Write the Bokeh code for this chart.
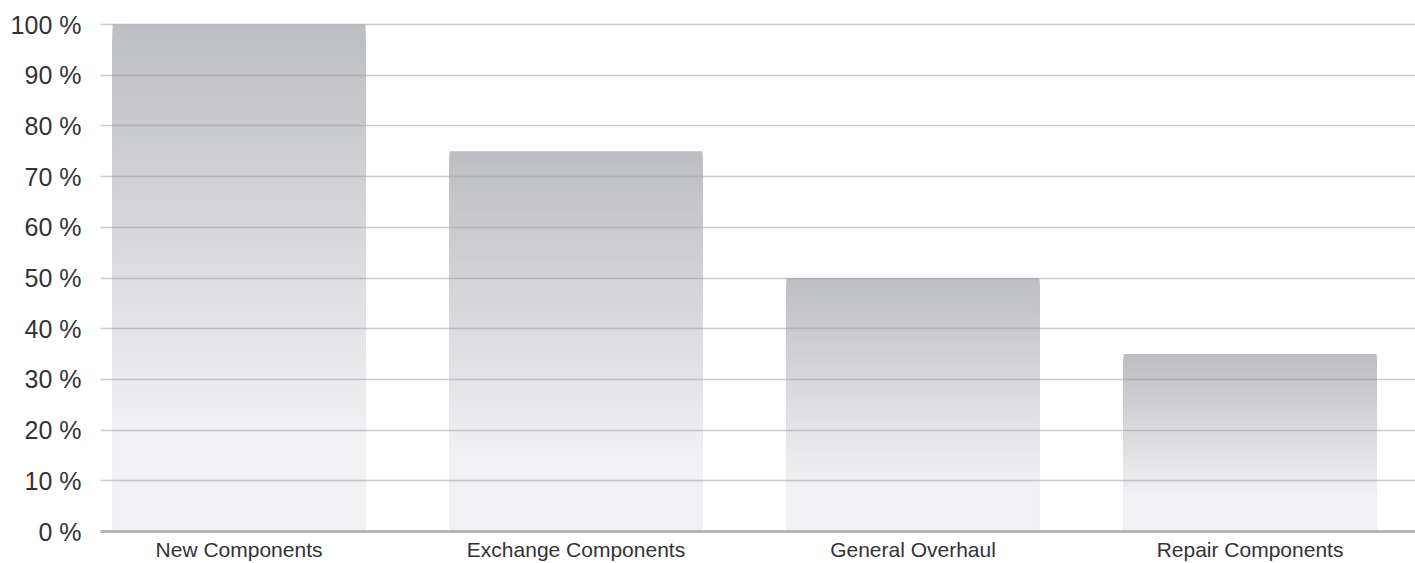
from bokeh.plotting import figure
from bokeh.models import Range1d, FixedTicker, ColumnDataSource
from bokeh.embed import file_html
from bokeh.resources import INLINE

categories = ["New Components", "Exchange Components", "General Overhaul", "Repair Components"]
values = [100, 75, 50, 35]
y_ticks = [0, 10, 20, 30, 40, 50, 60, 70, 80, 90, 100]
y_tick_labels = ["0 %", "10 %", "20 %", "30 %", "40 %", "50 %", "60 %", "70 %", "80 %", "90 %", "100 %"]

TOP = (189, 190, 193)
BOT = (241, 241, 243)
GRAD_END = 0.8
N = 120
BAR_W = 0.75

# Layered rectangles: each drawn from 0 up to a progressively lower top,
# lighter each time, so the bar shows a smooth vertical gradient.
xs, tops, colors = [], [], []
for k in range(N + 1):
    f = k / N * GRAD_END
    t = k / N
    c = tuple(int(round(TOP[j] + (BOT[j] - TOP[j]) * t)) for j in range(3))
    for i, v in enumerate(values):
        xs.append(i)
        tops.append(v * (1 - f))
        colors.append("#%02x%02x%02x" % c)

src = ColumnDataSource(dict(x=xs, top=tops, color=colors))

p = figure(width=1415, height=563, output_backend="svg", toolbar_location=None,
           x_range=Range1d(-0.411, 3.491), y_range=Range1d(0, 100.99),
           min_border_left=100, min_border_right=0, min_border_top=19, min_border_bottom=32)

p.vbar(x="x", top="top", bottom=0, width=BAR_W, fill_color="color",
       line_color=None, source=src)

p.outline_line_color = None
p.background_fill_color = "white"
p.border_fill_color = "white"

p.xgrid.visible = False
p.ygrid.ticker = FixedTicker(ticks=y_ticks)
p.ygrid.grid_line_color = "#9a9aa0"
p.ygrid.grid_line_alpha = 0.5
p.ygrid.grid_line_width = 1.3
p.ygrid.level = "overlay"

p.yaxis.ticker = FixedTicker(ticks=y_ticks)
p.yaxis.major_label_overrides = {t: l for t, l in zip(y_ticks, y_tick_labels)}
p.yaxis.axis_line_color = None
p.yaxis.major_tick_line_color = None
p.yaxis.minor_tick_line_color = None
p.yaxis.major_label_text_font = "Liberation Sans"
p.yaxis.major_label_text_font_size = "25px"
p.yaxis.major_label_text_color = "#333333"
p.yaxis.major_label_standoff = 13

p.xaxis.ticker = FixedTicker(ticks=list(range(len(categories))))
p.xaxis.major_label_overrides = {i: c for i, c in enumerate(categories)}
p.xaxis.axis_line_color = "#b6b6ba"
p.xaxis.axis_line_width = 3
p.xaxis.major_tick_line_color = None
p.xaxis.minor_tick_line_color = None
p.xaxis.major_label_text_font = "Liberation Sans"
p.xaxis.major_label_text_font_size = "21px"
p.xaxis.major_label_text_color = "#333333"
p.xaxis.major_label_standoff = 0

open("out.html", "w").write(file_html(p, INLINE))
